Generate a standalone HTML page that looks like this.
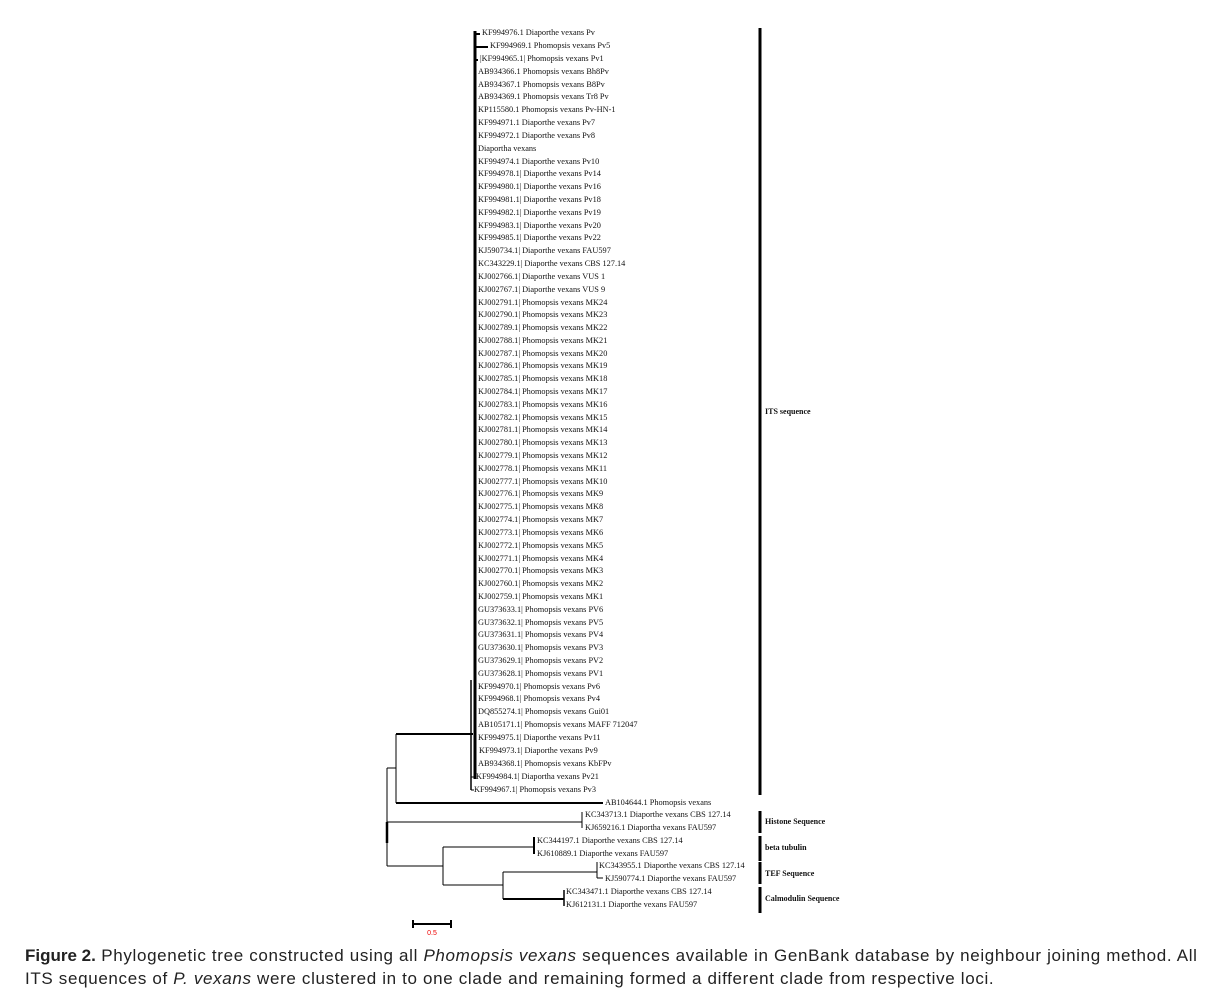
<!DOCTYPE html>
<html><head><meta charset="utf-8"><style>
html,body{margin:0;padding:0;background:#fff;}
body{width:1209px;height:998px;position:relative;overflow:hidden;}
svg{position:absolute;left:0;top:0;}
.t{font-family:"Liberation Serif",serif;font-size:8.3px;fill:#111;}
.b{font-family:"Liberation Serif",serif;font-size:8px;font-weight:bold;fill:#111;}
.cap{position:absolute;left:25px;top:944px;width:1200px;white-space:nowrap;font-family:"Liberation Sans",sans-serif;font-size:17px;line-height:23px;color:#222;}
.cap span{letter-spacing:0.66px;}
</style></head><body>
<svg width="1209" height="940" viewBox="0 0 1209 940">
<g stroke="#000" fill="none">
<line x1="475" y1="31" x2="475" y2="779" stroke-width="3"/>
<line x1="475" y1="34" x2="480" y2="34" stroke-width="2"/>
<line x1="475" y1="47" x2="488" y2="47" stroke-width="2"/>
<line x1="475" y1="60" x2="478" y2="60" stroke-width="2"/>
<line x1="471" y1="680" x2="471" y2="790" stroke-width="1.5"/>
<line x1="471" y1="777" x2="474" y2="777" stroke-width="1"/>
<line x1="471" y1="790" x2="474" y2="790" stroke-width="1"/>
<line x1="396" y1="734" x2="473" y2="734" stroke-width="2"/>
<line x1="396" y1="734" x2="396" y2="803" stroke-width="1"/>
<line x1="396" y1="803" x2="603" y2="803" stroke-width="2"/>
<line x1="387" y1="768" x2="396" y2="768" stroke-width="1"/>
<line x1="387" y1="768" x2="387" y2="866" stroke-width="1"/>
<line x1="387" y1="822" x2="387" y2="843" stroke-width="2.5"/>
<line x1="387" y1="822" x2="582" y2="822" stroke-width="1"/>
<line x1="582" y1="812" x2="582" y2="828" stroke-width="1"/>
<line x1="387" y1="866" x2="443" y2="866" stroke-width="1"/>
<line x1="443" y1="847" x2="443" y2="885" stroke-width="1"/>
<line x1="443" y1="847" x2="534" y2="847" stroke-width="1"/>
<line x1="534" y1="837" x2="534" y2="854" stroke-width="2"/>
<line x1="443" y1="885" x2="503" y2="885" stroke-width="1"/>
<line x1="503" y1="872" x2="503" y2="899" stroke-width="1"/>
<line x1="503" y1="872" x2="597" y2="872" stroke-width="1"/>
<line x1="597" y1="862" x2="597" y2="878" stroke-width="1"/>
<line x1="597" y1="878" x2="603" y2="878" stroke-width="1"/>
<line x1="503" y1="899" x2="564" y2="899" stroke-width="2"/>
<line x1="564" y1="890" x2="564" y2="906" stroke-width="1.5"/>
<line x1="760" y1="28" x2="760" y2="795" stroke-width="3"/>
<line x1="760" y1="811" x2="760" y2="833" stroke-width="3"/>
<line x1="760" y1="836" x2="760" y2="861" stroke-width="3"/>
<line x1="760" y1="862" x2="760" y2="884" stroke-width="3"/>
<line x1="760" y1="887" x2="760" y2="913" stroke-width="3"/>
<line x1="413" y1="924" x2="451" y2="924" stroke-width="2"/>
<line x1="413" y1="920" x2="413" y2="928" stroke-width="2"/>
<line x1="451" y1="920" x2="451" y2="928" stroke-width="2"/>
</g>
<text x="432" y="935" font-family="Liberation Sans,sans-serif" font-size="7" fill="#e00" text-anchor="middle">0.5</text>
<g class="t">
<text x="482" y="35">KF994976.1 Diaporthe vexans Pv</text>
<text x="490" y="48">KF994969.1 Phomopsis vexans Pv5</text>
<text x="480" y="61">|KF994965.1| Phomopsis vexans Pv1</text>
<text x="478" y="74">AB934366.1 Phomopsis vexans Bh8Pv</text>
<text x="478" y="87">AB934367.1 Phomopsis vexans B8Pv</text>
<text x="478" y="99">AB934369.1 Phomopsis vexans Tr8 Pv</text>
<text x="478" y="112">KP115580.1 Phomopsis vexans Pv-HN-1</text>
<text x="478" y="125">KF994971.1 Diaporthe vexans Pv7</text>
<text x="478" y="138">KF994972.1 Diaporthe vexans Pv8</text>
<text x="478" y="151">Diaportha vexans</text>
<text x="478" y="164">KF994974.1 Diaporthe vexans Pv10</text>
<text x="478" y="176">KF994978.1| Diaporthe vexans Pv14</text>
<text x="478" y="189">KF994980.1| Diaporthe vexans Pv16</text>
<text x="478" y="202">KF994981.1| Diaporthe vexans Pv18</text>
<text x="478" y="215">KF994982.1| Diaporthe vexans Pv19</text>
<text x="478" y="228">KF994983.1| Diaporthe vexans Pv20</text>
<text x="478" y="240">KF994985.1| Diaporthe vexans Pv22</text>
<text x="478" y="253">KJ590734.1| Diaporthe vexans FAU597</text>
<text x="478" y="266">KC343229.1| Diaporthe vexans CBS 127.14</text>
<text x="478" y="279">KJ002766.1| Diaporthe vexans VUS 1</text>
<text x="478" y="292">KJ002767.1| Diaporthe vexans VUS 9</text>
<text x="478" y="305">KJ002791.1| Phomopsis vexans MK24</text>
<text x="478" y="317">KJ002790.1| Phomopsis vexans MK23</text>
<text x="478" y="330">KJ002789.1| Phomopsis vexans MK22</text>
<text x="478" y="343">KJ002788.1| Phomopsis vexans MK21</text>
<text x="478" y="356">KJ002787.1| Phomopsis vexans MK20</text>
<text x="478" y="368">KJ002786.1| Phomopsis vexans MK19</text>
<text x="478" y="381">KJ002785.1| Phomopsis vexans MK18</text>
<text x="478" y="394">KJ002784.1| Phomopsis vexans MK17</text>
<text x="478" y="407">KJ002783.1| Phomopsis vexans MK16</text>
<text x="478" y="420">KJ002782.1| Phomopsis vexans MK15</text>
<text x="478" y="432">KJ002781.1| Phomopsis vexans MK14</text>
<text x="478" y="445">KJ002780.1| Phomopsis vexans MK13</text>
<text x="478" y="458">KJ002779.1| Phomopsis vexans MK12</text>
<text x="478" y="471">KJ002778.1| Phomopsis vexans MK11</text>
<text x="478" y="484">KJ002777.1| Phomopsis vexans MK10</text>
<text x="478" y="496">KJ002776.1| Phomopsis vexans MK9</text>
<text x="478" y="509">KJ002775.1| Phomopsis vexans MK8</text>
<text x="478" y="522">KJ002774.1| Phomopsis vexans MK7</text>
<text x="478" y="535">KJ002773.1| Phomopsis vexans MK6</text>
<text x="478" y="548">KJ002772.1| Phomopsis vexans MK5</text>
<text x="478" y="561">KJ002771.1| Phomopsis vexans MK4</text>
<text x="478" y="573">KJ002770.1| Phomopsis vexans MK3</text>
<text x="478" y="586">KJ002760.1| Phomopsis vexans MK2</text>
<text x="478" y="599">KJ002759.1| Phomopsis vexans MK1</text>
<text x="478" y="612">GU373633.1| Phomopsis vexans PV6</text>
<text x="478" y="625">GU373632.1| Phomopsis vexans PV5</text>
<text x="478" y="637">GU373631.1| Phomopsis vexans PV4</text>
<text x="478" y="650">GU373630.1| Phomopsis vexans PV3</text>
<text x="478" y="663">GU373629.1| Phomopsis vexans PV2</text>
<text x="478" y="676">GU373628.1| Phomopsis vexans PV1</text>
<text x="478" y="689">KF994970.1| Phomopsis vexans Pv6</text>
<text x="478" y="701">KF994968.1| Phomopsis vexans Pv4</text>
<text x="478" y="714">DQ855274.1| Phomopsis vexans Gui01</text>
<text x="478" y="727">AB105171.1| Phomopsis vexans MAFF 712047</text>
<text x="478" y="740">KF994975.1| Diaporthe vexans Pv11</text>
<text x="479" y="753">KF994973.1| Diaporthe vexans Pv9</text>
<text x="478" y="766">AB934368.1| Phomopsis vexans KbFPv</text>
<text x="476" y="779">KF994984.1| Diaportha vexans Pv21</text>
<text x="474" y="792">KF994967.1| Phomopsis vexans Pv3</text>
<text x="605" y="805">AB104644.1 Phomopsis vexans</text>
<text x="585" y="817">KC343713.1 Diaporthe vexans CBS 127.14</text>
<text x="585" y="830">KJ659216.1 Diaportha vexans FAU597</text>
<text x="537" y="843">KC344197.1 Diaporthe vexans CBS 127.14</text>
<text x="537" y="856">KJ610889.1 Diaporthe vexans FAU597</text>
<text x="599" y="868">KC343955.1 Diaporthe vexans CBS 127.14</text>
<text x="605" y="881">KJ590774.1 Diaporthe vexans FAU597</text>
<text x="566" y="894">KC343471.1 Diaporthe vexans CBS 127.14</text>
<text x="566" y="907">KJ612131.1 Diaporthe vexans FAU597</text>
</g>
<g class="b">
<text x="765" y="414">ITS sequence</text>
<text x="765" y="824">Histone Sequence</text>
<text x="765" y="850">beta tubulin</text>
<text x="765" y="876">TEF Sequence</text>
<text x="765" y="901">Calmodulin Sequence</text>
</g>
</svg>
<div class="cap"><b>Figure 2.</b><span> Phylogenetic tree constructed using all <i>Phomopsis vexans</i> sequences available in GenBank database by neighbour joining method. All</span><br><span>ITS sequences of <i>P. vexans</i> were clustered in to one clade and remaining formed a different clade from respective loci.</span></div>
</body></html>
